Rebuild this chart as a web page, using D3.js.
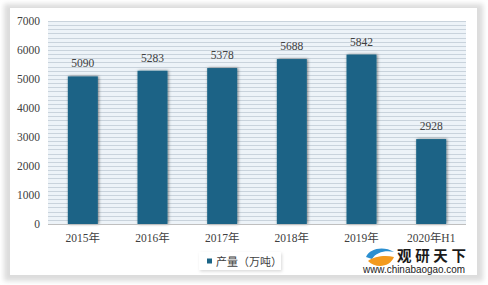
<!DOCTYPE html>
<html>
<head>
<meta charset="utf-8">
<script src="https://cdn.jsdelivr.net/npm/d3@7/dist/d3.min.js"></script>
<style>
  body { margin: 0; background: #fff; }
  svg { display: block; }
</style>
</head>
<body>
<div id="chart"></div>
<script>
// data
const years = ["2015年", "2016年", "2017年", "2018年", "2019年", "2020年H1"];
const output = [5090, 5283, 5378, 5688, 5842, 2928];
const yTicks = [0, 1000, 2000, 3000, 4000, 5000, 6000, 7000];
const seriesName = "产量（万吨）";

const W = 488, H = 285;
const margin = {top: 21, right: 22, bottom: 61, left: 48};
const width = W - margin.left - margin.right,
      height = H - margin.top - margin.bottom;

const svg = d3.select("#chart").append("svg")
  .attr("width", W).attr("height", H);

const defs = svg.append("defs");
// frame shadow
const fs = defs.append("filter").attr("id", "frameBlur")
  .attr("x", "-5%").attr("y", "-5%").attr("width", "110%").attr("height", "110%");
fs.append("feGaussianBlur").attr("stdDeviation", 2.5);
// bar shadow
const bs = defs.append("filter").attr("id", "barShadow")
  .attr("x", "-30%").attr("y", "-10%").attr("width", "160%").attr("height", "120%");
bs.append("feDropShadow").attr("dx", 1).attr("dy", 0).attr("stdDeviation", 1.8)
  .attr("flood-color", "#000").attr("flood-opacity", 0.5);
// legend shadow
const ls = defs.append("filter").attr("id", "legShadow")
  .attr("x", "-10%").attr("y", "-30%").attr("width", "120%").attr("height", "170%");
ls.append("feDropShadow").attr("dx", 1).attr("dy", 1.5).attr("stdDeviation", 1.5)
  .attr("flood-color", "#000").attr("flood-opacity", 0.15);

// outer frame
svg.append("rect").attr("x", 4).attr("y", 4).attr("width", 479).attr("height", 277)
  .attr("fill", "#dcdcdc").attr("filter", "url(#frameBlur)");
svg.append("rect").attr("x", 10).attr("y", 8).attr("width", 467).attr("height", 267)
  .attr("fill", "#fff");

const g = svg.append("g").attr("transform", `translate(${margin.left},${margin.top})`);

const x = d3.scaleBand().domain(years).range([0, width]).paddingInner(0.57).paddingOuter(0.285);
const y = d3.scaleLinear().domain([0, 7000]).range([height, 0]);

// plot background with fine stripes
g.append("rect").attr("width", width).attr("height", height).attr("fill", "#edf3f8");
g.selectAll(".stripe")
  .data(d3.range(0, 7000.1, 1000 / 7))
  .join("line")
  .attr("x1", 0).attr("x2", width)
  .attr("y1", d => Math.round(y(d)) + 0.5).attr("y2", d => Math.round(y(d)) + 0.5)
  .attr("stroke", "#c9d3dc").attr("stroke-width", 1);

// y axis labels
g.selectAll(".ytick")
  .data(yTicks)
  .join("text")
  .attr("x", -8).attr("y", d => y(d) + 4)
  .attr("text-anchor", "end")
  .attr("font-family", "Liberation Serif, serif")
  .attr("font-size", 11.5)
  .attr("fill", "#404040")
  .text(d => d);

// bars
g.selectAll(".bar")
  .data(output)
  .join("rect")
  .attr("x", (d, i) => x(years[i]))
  .attr("y", d => y(d))
  .attr("width", x.bandwidth())
  .attr("height", d => height - y(d))
  .attr("fill", "#1b6486")
  .attr("filter", "url(#barShadow)");

// value labels
g.selectAll(".val")
  .data(output)
  .join("text")
  .attr("x", (d, i) => x(years[i]) + x.bandwidth() / 2)
  .attr("y", d => y(d) - 9)
  .attr("text-anchor", "middle")
  .attr("font-family", "Liberation Serif, serif")
  .attr("font-size", 11.5)
  .attr("fill", "#404040")
  .text(d => d);

// x axis line
g.append("line").attr("x1", 0).attr("x2", width)
  .attr("y1", height + 0.5).attr("y2", height + 0.5)
  .attr("stroke", "#bfbfbf");

// x labels
g.selectAll(".xl")
  .data(years)
  .join("text")
  .attr("x", d => x(d) + x.bandwidth() / 2)
  .attr("y", height + 18)
  .attr("text-anchor", "middle")
  .attr("font-family", "Liberation Serif, 'Noto Sans CJK SC', serif")
  .attr("font-size", 11.5)
  .attr("fill", "#404040")
  .text(d => d);

// legend
const leg = svg.append("g").attr("transform", "translate(199,252)");
leg.append("rect").attr("width", 82).attr("height", 18).attr("fill", "#fff")
  .attr("filter", "url(#legShadow)");
leg.append("rect").attr("x", 8).attr("y", 6.5).attr("width", 5).attr("height", 5).attr("fill", "#1b6486");
leg.append("text").attr("x", 17).attr("y", 13.5)
  .attr("font-family", "'Noto Sans CJK SC', sans-serif")
  .attr("font-size", 11).attr("fill", "#404040")
  .text(seriesName);

// watermark
const wm = svg.append("g").attr("transform", "translate(362,246)");
wm.append("path").attr("d", "M4,11 C8,2 22,0 32,6 C24,4 14,6 10,13 Z").attr("fill", "#2b8fd0");
wm.append("path").attr("d", "M6,15 C12,10 24,9 32,11 C28,21 14,23 6,15 Z").attr("fill", "#f39a1e");
wm.append("text").attr("x", 35).attr("y", 15)
  .attr("font-family", "'Noto Sans CJK SC', sans-serif")
  .attr("font-weight", "bold").attr("font-size", 14.5)
  .attr("textLength", 69).attr("lengthAdjust", "spacing")
  .attr("fill", "#1a1a1a").text("观研天下");
wm.append("text").attr("x", 1).attr("y", 27)
  .attr("font-family", "Liberation Sans, Arial, sans-serif")
  .attr("font-size", 10).attr("fill", "#222")
  .attr("textLength", 102).attr("lengthAdjust", "spacingAndGlyphs")
  .text("www.chinabaogao.com");
</script>
</body>
</html>
